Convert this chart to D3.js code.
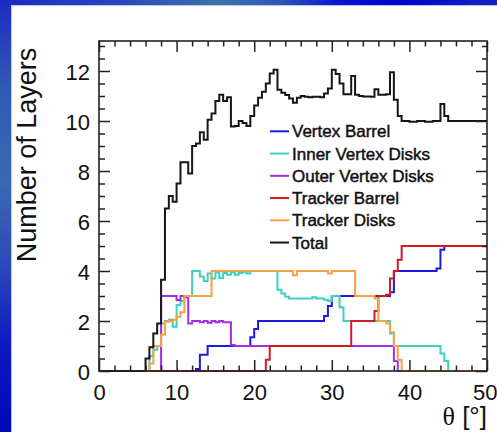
<!DOCTYPE html>
<html>
<head>
<meta charset="utf-8">
<script src="https://cdn.jsdelivr.net/npm/d3@7"></script>
<style>
  html, body { margin: 0; padding: 0; background: #ffffff; }
  svg { display: block; }
  text { font-family: "Liberation Sans", Arial, Helvetica, sans-serif; fill: #111; }
</style>
</head>
<body>
<svg id="chart" width="497" height="432"></svg>
<script>
// Number of layers crossed versus polar angle, one step curve per sub-detector.
// Each series is a list of [theta lower edge (deg), layers] breakpoints.
const vertexBarrel = [[0,0],[12.5,0.08],[13,0.65],[14,1.0],[19.5,1.35],[20,1.68],[20.5,2.0],
  [29,2.2],[29.5,2.6],[30,3.0],[37.5,3.15],[38,4.0],[43.5,4.1],[44,4.85],[44.5,5.0],[50,5.0]];

const innerVertexDisks = [[0,0],[6.5,0.6],[7,0.85],[7.5,1.0],[8,1.9],[8.5,2.0],[9,2.05],[9.5,1.77],
  [10,2.64],[10.5,2.8],[11,3.0],[12,4.0],[13,3.78],[13.5,3.6],[14,3.9],[14.5,3.7],[15,3.95],
  [15.5,3.72],[16,3.92],[16.5,3.85],[17,3.95],[17.5,3.85],[18,3.92],[18.5,3.97],[19,3.9],
  [19.5,4.0],[23,3.25],[23.5,3.1],[24,2.97],[24.5,2.9],[27.5,2.95],[28,2.9],[29,2.85],
  [29.5,2.8],[30,3.0],[31,2.55],[31.5,2.0],[37.5,1.5],[38,1.0],[44,0.7],[44.5,0.4],[45,0],[50,0]];

const outerVertexDisks = [[0,0],[8,3.0],[10,2.84],[10.5,3.0],[11,2.95],[11.5,1.9],[12,2.0],
  [13,1.95],[13.5,2.0],[14,1.93],[14.5,2.0],[15,1.95],[15.5,2.0],[16,1.95],[17,1.04],
  [17.5,1.0],[38,0.4],[38.5,0],[50,0]];

const trackerBarrel = [[0,0],[21.5,0.45],[22,1.0],[32.5,2.0],[35.5,2.4],[36,3.0],[37,3.05],
  [37.5,3.7],[38,4.0],[38.5,4.45],[39,5.0],[50,5.0]];

const trackerDisks = [[0,0],[6.5,0.3],[7,1.0],[8,1.45],[8.5,1.97],[9,2.0],[9.5,2.05],[10,2.17],
  [10.5,2.35],[11,3.0],[14.5,4.0],[25,3.83],[25.5,4.0],[29.5,3.9],[30,4.0],[33,3.0],
  [35.5,2.9],[36,2.0],[37,1.9],[37.5,1.55],[38,1.0],[38.5,0.45],[39,0],[50,0]];

const total = [[0,0],[6,0.5],[6.5,0.95],[7,1.5],[7.5,1.9],[8,3.65],[8.5,6.5],[9,7.0],[9.5,6.77],
  [10,7.5],[10.5,8.35],[11.5,7.9],[12,9.0],[12.5,9.1],[13,9.55],[13.5,9.25],[14,10.05],
  [14.5,10.3],[15,10.8],[15.5,11.05],[16,10.8],[16.5,10.95],[17,9.78],[17.5,9.8],[18,10.0],
  [18.5,9.92],[19,9.8],[19.5,10.2],[20,10.62],[20.5,10.93],[21,11.17],[21.5,11.5],[22,11.9],
  [22.5,12.05],[23,11.25],[23.5,11.13],[24,11.04],[24.5,10.9],[25,10.73],[25.5,10.93],
  [26,11.0],[26.5,10.97],[27,10.95],[27.5,10.97],[28.5,10.95],[29,11.1],[29.5,11.3],
  [30,12.05],[30.5,11.88],[31,11.5],[31.5,11.07],[32.5,11.8],[33,11.05],[33.5,11.0],
  [34,10.98],[35,10.97],[35.5,11.27],[36,11.05],[37,11.07],[37.5,11.95],[38,10.85],
  [38.5,10.2],[39,10.0],[40,9.97],[41,10.0],[42,9.97],[43,10.0],[44,10.68],[44.5,10.2],
  [45,10.0],[50,10.0]];

const seriesNames = ["Vertex Barrel", "Inner Vertex Disks", "Outer Vertex Disks",
  "Tracker Barrel", "Tracker Disks", "Total"];
const seriesData = [vertexBarrel, innerVertexDisks, outerVertexDisks, trackerBarrel, trackerDisks, total];
const seriesColors = ["#1a1ae0", "#3fd0c0", "#a030e4", "#d01c26", "#f4a246", "#161616"];

const xMajorTicks = [0, 10, 20, 30, 40, 50];
const yMajorTicks = [0, 2, 4, 6, 8, 10, 12];
const xMinorTicks = [2, 4, 6, 8, 12, 14, 16, 18, 22, 24, 26, 28, 32, 34, 36, 38, 42, 44, 46, 48];
const yMinorTicks = [0.5, 1, 1.5, 2.5, 3, 3.5, 4.5, 5, 5.5, 6.5, 7, 7.5, 8.5, 9, 9.5, 10.5, 11, 11.5, 12.5, 13];

const yTitle = "Number of Layers";
const xTitleSymbol = "θ";
const xTitleUnit = " [°]";

const svg = d3.select("#chart");
const W = 497, H = 432;

// slide background: blue gradient frame around a white panel
const defs = svg.append("defs");
const gTop = defs.append("linearGradient").attr("id", "topBand").attr("x1", 0).attr("x2", 1).attr("y1", 0).attr("y2", 0);
[[0, "#1b2bc4"], [0.25, "#2a48ba"], [0.44, "#3c74a8"], [0.56, "#2e58b6"], [0.68, "#0a14d2"],
 [0.8, "#0000cc"], [1, "#1a22c2"]].forEach(([o, c]) => gTop.append("stop").attr("offset", o).attr("stop-color", c));
const gLeft = defs.append("linearGradient").attr("id", "leftBand").attr("x1", 0).attr("x2", 0).attr("y1", 0).attr("y2", 1);
[[0, "#1c2cc4"], [0.2, "#3058b6"], [0.42, "#3c68b0"], [0.62, "#2a48ba"], [0.8, "#0c18c2"],
 [1, "#0008b8"]].forEach(([o, c]) => gLeft.append("stop").attr("offset", o).attr("stop-color", c));

svg.append("rect").attr("x", 0).attr("y", 0).attr("width", W).attr("height", H).attr("fill", "url(#leftBand)");
svg.append("rect").attr("x", 0).attr("y", 0).attr("width", W).attr("height", 5).attr("fill", "url(#topBand)");
svg.append("rect").attr("x", 11).attr("y", 5).attr("width", W - 11).attr("height", H - 5).attr("fill", "#fefefe");
svg.append("line").attr("x1", 11.5).attr("x2", 11.5).attr("y1", 5).attr("y2", H).attr("stroke", "#b8c6f0").attr("stroke-width", 1);
svg.append("line").attr("x1", 11).attr("x2", W).attr("y1", 5.5).attr("y2", 5.5).attr("stroke", "#b8c6f0").attr("stroke-width", 1);

// scales
const x = d3.scaleLinear().domain([0, 50]).range([99, 487]);
const y = d3.scaleLinear().domain([0, 13.2]).range([371, 41]);
const [x0, x1] = x.range();
const [y0, y1] = y.range();

// histograms (step curves)
const step = d3.line().x(d => x(d[0])).y(d => y(d[1])).curve(d3.curveStepAfter);
const plot = svg.append("g");
seriesData.forEach((data, i) => {
  plot.append("path")
    .attr("d", step(data))
    .attr("fill", "none")
    .attr("stroke", seriesColors[i])
    .attr("stroke-width", 2)
    .attr("stroke-linejoin", "miter");
});

// frame
svg.append("rect").attr("x", x0).attr("y", y1).attr("width", x1 - x0).attr("height", y0 - y1)
  .attr("fill", "none").attr("stroke", "#222").attr("stroke-width", 1.6);

// axes with inward ticks on all four sides
function styleAxis(g) {
  g.select(".domain").remove();
  g.selectAll(".tick line").attr("stroke", "#222").attr("stroke-width", 1.5);
  g.selectAll("text").style("font-size", "22px").attr("fill", "#111");
}
const noLabel = () => "";

const bottomAxis = svg.append("g").attr("transform", `translate(0,${y0})`)
  .call(d3.axisBottom(x).tickValues(xMajorTicks).tickSizeInner(-11).tickSizeOuter(0).tickPadding(13).tickFormat(d3.format("d")))
  .call(styleAxis);
// the last label sits against the right edge of the page
bottomAxis.selectAll(".tick text").filter(d => d === 50).attr("text-anchor", "end").attr("x", 10);
svg.append("g").attr("transform", `translate(0,${y0})`)
  .call(d3.axisBottom(x).tickValues(xMinorTicks).tickSizeInner(-5.5).tickSizeOuter(0).tickFormat(noLabel))
  .call(styleAxis);
svg.append("g").attr("transform", `translate(0,${y1})`)
  .call(d3.axisTop(x).tickValues(xMajorTicks).tickSizeInner(-11).tickSizeOuter(0).tickFormat(noLabel))
  .call(styleAxis);
svg.append("g").attr("transform", `translate(0,${y1})`)
  .call(d3.axisTop(x).tickValues(xMinorTicks).tickSizeInner(-5.5).tickSizeOuter(0).tickFormat(noLabel))
  .call(styleAxis);

const leftAxis = svg.append("g").attr("transform", `translate(${x0},0)`)
  .call(d3.axisLeft(y).tickValues(yMajorTicks).tickSizeInner(-11).tickSizeOuter(0).tickPadding(9).tickFormat(d3.format("d")))
  .call(styleAxis);
leftAxis.selectAll("text").attr("dy", "0.38em");
svg.append("g").attr("transform", `translate(${x0},0)`)
  .call(d3.axisLeft(y).tickValues(yMinorTicks).tickSizeInner(-6).tickSizeOuter(0).tickFormat(noLabel))
  .call(styleAxis);
svg.append("g").attr("transform", `translate(${x1},0)`)
  .call(d3.axisRight(y).tickValues(yMajorTicks).tickSizeInner(-11).tickSizeOuter(0).tickFormat(noLabel))
  .call(styleAxis);
svg.append("g").attr("transform", `translate(${x1},0)`)
  .call(d3.axisRight(y).tickValues(yMinorTicks).tickSizeInner(-5).tickSizeOuter(0).tickFormat(noLabel))
  .call(styleAxis);

// axis titles
svg.append("text")
  .attr("transform", `translate(36,${(y0 + y1) / 2 - 51}) rotate(-90)`)
  .attr("text-anchor", "middle")
  .style("font-size", "27px")
  .text(yTitle);

const xt = svg.append("text")
  .attr("x", x1).attr("y", 425)
  .attr("text-anchor", "end")
  .style("font-size", "26px");
xt.append("tspan").style("font-family", "'Liberation Serif', 'Times New Roman', serif").text(xTitleSymbol);
xt.append("tspan").text(xTitleUnit);

// legend
const legend = svg.append("g");
seriesNames.forEach((name, i) => {
  const base = 137.3 + i * 22.25;
  legend.append("line")
    .attr("x1", 270).attr("x2", 289)
    .attr("y1", base - 6).attr("y2", base - 6)
    .attr("stroke", seriesColors[i]).attr("stroke-width", 2);
  legend.append("text")
    .attr("x", 292).attr("y", base)
    .style("font-size", "17px")
    .attr("stroke", "#111").attr("stroke-width", 0.45)
    .text(name);
});
</script>
</body>
</html>
